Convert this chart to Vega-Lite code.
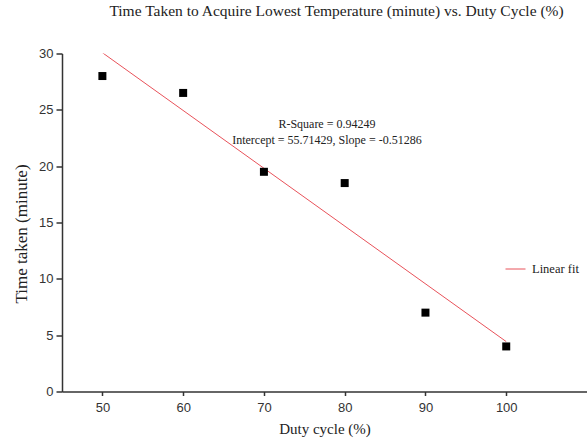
{
  "$schema": "https://vega.github.io/schema/vega-lite/v6.json",
  "width": 525,
  "height": 338,
  "autosize": {"type": "none"},
  "padding": {"left": 62, "top": 53.5, "right": 0, "bottom": 49.5},
  "background": "white",
  "config": {"view": {"stroke": null}},
  "title": {
    "text": "Time Taken to Acquire Lowest Temperature (minute) vs. Duty Cycle (%)",
    "font": "Liberation Serif",
    "fontSize": 15.5,
    "fontWeight": "normal",
    "color": "#222222",
    "anchor": "middle",
    "dx": 12,
    "offset": 28
  },
  "datasets": {
    "pts": [
      {"duty": 50, "time": 28},
      {"duty": 60, "time": 26.5},
      {"duty": 70, "time": 19.5},
      {"duty": 80, "time": 18.5},
      {"duty": 90, "time": 7},
      {"duty": 100, "time": 4}
    ],
    "notes": [
      {"duty": 77.8, "time": 23.7, "label": "R-Square = 0.94249"},
      {"duty": 77.8, "time": 22.35, "label": "Intercept = 55.71429, Slope = -0.51286"}
    ]
  },
  "encoding": {
    "x": {
      "field": "duty", "type": "quantitative",
      "scale": {"domain": [45, 110], "nice": false, "zero": false},
      "axis": {
        "title": "Duty cycle (%)",
        "values": [50, 60, 70, 80, 90, 100],
        "grid": false,
        "domainColor": "#333333", "domainWidth": 1.5,
        "tickColor": "#333333", "tickWidth": 1.5, "tickSize": 4,
        "labelFont": "Liberation Sans", "labelFontSize": 13, "labelColor": "#333333",
        "labelPadding": 6,
        "titleFont": "Liberation Serif", "titleFontSize": 15, "titleFontWeight": "normal",
        "titleColor": "#222222", "titlePadding": 7
      }
    },
    "y": {
      "field": "time", "type": "quantitative",
      "scale": {"domain": [0, 30], "nice": false},
      "axis": {
        "title": "Time taken (minute)",
        "values": [0, 5, 10, 15, 20, 25, 30],
        "grid": false,
        "domainColor": "#333333", "domainWidth": 1.5,
        "tickColor": "#333333", "tickWidth": 1.5, "tickSize": 6,
        "labelFont": "Liberation Sans", "labelFontSize": 13, "labelColor": "#333333",
        "labelPadding": 3,
        "titleFont": "Liberation Serif", "titleFontSize": 17, "titleFontWeight": "normal",
        "titleColor": "#222222", "titlePadding": 8, "titleY": 180
      }
    }
  },
  "layer": [
    {
      "data": {"name": "pts"},
      "transform": [{"regression": "time", "on": "duty", "method": "linear"}],
      "mark": {"type": "line", "strokeWidth": 1, "clip": true},
      "encoding": {
        "color": {
          "datum": "Linear fit",
          "scale": {"range": ["#e8525a"]},
          "legend": {
            "title": null,
            "orient": "none",
            "legendX": 443,
            "legendY": 205,
            "symbolType": "stroke",
            "symbolSize": 400,
            "symbolStrokeWidth": 1,
            "labelFont": "Liberation Serif",
            "labelFontSize": 12.5,
            "labelColor": "#222222",
            "labelOffset": 6,
            "padding": 0
          }
        }
      }
    },
    {
      "data": {"name": "pts"},
      "mark": {"type": "square", "size": 64, "filled": true, "color": "black", "opacity": 1}
    },
    {
      "data": {"name": "notes"},
      "mark": {"type": "text", "font": "Liberation Serif", "fontSize": 12, "color": "#222222", "align": "center", "baseline": "middle"},
      "encoding": {"text": {"field": "label"}}
    }
  ]
}
